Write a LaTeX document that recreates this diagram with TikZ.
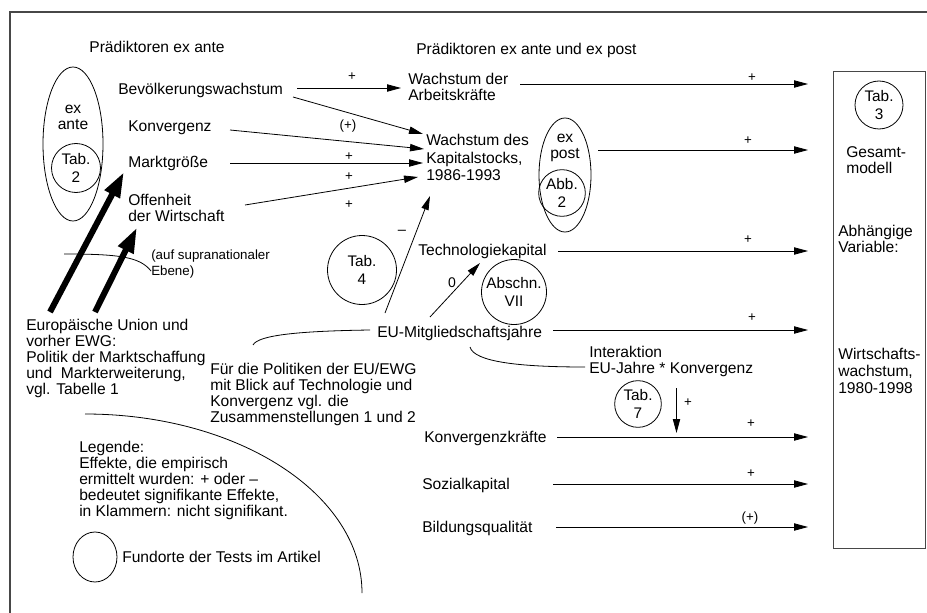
\documentclass[tikz,border=0pt]{standalone}
\usepackage{fontspec}
\setmainfont{Liberation Sans}
\usetikzlibrary{arrows.meta,calc,shapes.geometric}
\begin{document}
\begin{tikzpicture}[x=0.75pt,y=-0.75pt,
  txt/.style={font=\fontsize{11.7}{12}\selectfont, inner sep=0pt, align=left, anchor=west},
  wtxt/.style={txt, font=\fontsize{11.7}{13}\selectfont},
  ctxt/.style={font=\fontsize{11.7}{12}\selectfont, inner sep=0pt, align=center},
  small/.style={font=\fontsize{10}{11}\selectfont, inner sep=0pt},
  supfont/.style={font=\fontsize{10}{12}\selectfont, inner sep=0pt, align=left, anchor=west},
  ring/.style={draw, circle, inner sep=0pt, line width=0.6pt, align=center, font=\fontsize{11.5}{13}\selectfont},
  oval/.style={draw, ellipse, inner sep=0pt, line width=0.6pt},
  conn/.style={line width=0.6pt},
  arr/.style={line width=0.6pt, -{Triangle[length=10.5pt,width=5.5pt]}},
  bigarr/.style={line width=4.5pt, -{Triangle[length=19pt,width=12pt]}},
  frame/.style={line width=1.1pt, draw=black!72},
  boxstyle/.style={draw=black!72, line width=1.1pt, inner sep=0pt, anchor=north west}
]
\useasboundingbox (0,0) rectangle (927,613);

% frame
\coordinate (fTL) at (10,12);
\coordinate (fTR) at (927,12);
\coordinate (fBL) at (10,613);
\draw[frame] (fTR) -- (fTL) -- (fBL);

% headings
\node[ctxt] (pre1) at (157,47) {Prädiktoren ex ante};
\node[txt] (pre2) at (416,50) {Prädiktoren ex ante und ex post};

% ex ante ellipse
\node[oval, minimum width=45pt, minimum height=115.5pt] (exante) at (73,144) {};
\node[ctxt] (exantet) at (73,117) {ex\\ante};
\node[ring, minimum size=36.75pt] (tab2) at (76,168) {Tab.\\2};

% left predictors
\node[txt] (bev) at (118,90) {Bevölkerungswachstum};
\node[txt] (konv) at (128,128) {Konvergenz};
\node[txt] (markt) at (128,163) {Marktgröße};
\node[txt] (offen) at (128,207.5) {Offenheit\\der Wirtschaft};

% middle
\node[txt] (arb) at (408,86.5) {Wachstum der\\Arbeitskräfte};
\node[wtxt] (kap) at (426,157.5) {Wachstum des\\Kapitalstocks,\\1986-1993};
\node[oval, minimum width=39pt, minimum height=85.5pt] (expost) at (565,175) {};
\node[ctxt] (expostt) at (565,147.5) {ex\\post};
\node[ring, minimum size=35pt] (abb2) at (562,193) {Abb.\\2};

\node[txt] (tech) at (418,251) {Technologiekapital};
\node[ring, minimum size=48.75pt] (abs) at (514,292) {Abschn.\\VII};
\node[ring, minimum size=51.75pt] (tab4) at (362,270) {Tab.\\4};
\node[txt] (eu) at (377,333) {EU-Mitgliedschaftsjahre};
\node[txt] (inter) at (589,361.5) {Interaktion\\EU-Jahre * Konvergenz};
\node[ring, minimum size=35pt] (tab7) at (638,404) {Tab.\\7};
\node[txt] (konvk) at (424,438) {Konvergenzkräfte};
\node[txt] (sozial) at (422,485) {Sozialkapital};
\node[txt] (bild) at (422,528) {Bildungsqualität};

% right box
\node[boxstyle, minimum width=69pt, minimum height=357.75pt] (box) at (833,71) {};
\node[ring, minimum size=36pt] (tab3) at (879,105) {Tab.\\3};
\node[txt] (gesamt) at (846,160) {Gesamt-\\modell};
\node[txt] (abh) at (838,239) {Abhängige\\Variable:};
\node[wtxt] (wirt) at (838,371) {Wirtschafts-\\wachstum,\\1980-1998};

% left bottom texts
\node[txt] (eur) at (26,358.5) {Europäische Union und\\vorher EWG:\\Politik der Marktschaffung\\und~ Markterweiterung,\\vgl. Tabelle 1};
\node[txt] (fuer) at (210,394) {Für die Politiken der EU/EWG\\mit Blick auf Technologie und\\Konvergenz vgl. die\\Zusammenstellungen 1 und 2};
\node[supfont] (supra) at (151,264) {(auf supranationaler\\Ebene)};
\node[txt] (leg) at (79,480) {Legende:\\Effekte, die empirisch\\ermittelt wurden: + oder –\\bedeutet signifikante Effekte,\\in Klammern: nicht signifikant.};
\node[oval, minimum width=33pt, minimum height=37.5pt] (legov) at (95,557) {};
\node[txt] (fund) at (122,557) {Fundorte der Tests im Artikel};

% effect labels
\node[small] (l1) at (352,77) {+};
\node[small] (l2) at (348,126) {(+)};
\node[small] (l3) at (349,157) {+};
\node[small] (l4) at (349,177) {+};
\node[small] (l5) at (349,205) {+};
\node[small] (l6) at (752,78) {+};
\node[small] (l7) at (748,141) {+};
\node[small] (l8) at (748,240) {+};
\node[small] (l9) at (752,318) {+};
\node[small] (l10) at (751,424) {+};
\node[small] (l11) at (751,474) {+};
\node[small] (l12) at (750,518) {(+)};
\node[small, font=\fontsize{11}{12}\selectfont] (lm) at (402,232) {–};
\node[small, font=\fontsize{10.5}{12}\selectfont] (l0) at (452,283) {0};
\node[small] (lp) at (688,403) {+};

% arrows into Kapitalstock / Arbeitskraefte
\draw[arr] ($(bev.west)+(179,-2)$) -- ($(arb.west)+(-7,1.5)$);
\draw[arr] ($(bev.west)+(175,7)$) -- ($(kap.west)+(-3,-23.5)$);
\draw[arr] ($(konv.west)+(102,2)$) -- ($(kap.west)+(-2,-8.5)$);
\draw[arr] ($(markt.west)+(102,0)$) -- ($(kap.west)+(-3,5.5)$);
\draw[arr] ($(offen.west)+(117,-2.5)$) -- ($(kap.west)+(-8,19.5)$);

% arrows to box
\draw[arr] ($(arb.west)+(112,-2.5)$) -- ($(box.north west)+(-25,13)$);
\draw[arr] ($(kap.west)+(172,-7.5)$) -- ($(box.north west)+(-25,79)$);
\draw[arr] ($(tech.west)+(140,0)$) -- ($(box.north west)+(-25,180)$);
\draw[arr] ($(eu.west)+(176,-3)$) -- ($(box.north west)+(-25,259)$);
\draw[arr] ($(konvk.west)+(133,-1)$) -- ($(box.north west)+(-25,366)$);
\draw[arr] ($(sozial.west)+(131,-1)$) -- ($(box.north west)+(-25,413)$);
\draw[arr] ($(bild.west)+(134,-1)$) -- ($(box.north west)+(-25,456)$);

% EU arrows
\draw[arr] ($(eu.west)+(53,-16)$) -- ($(tech.west)+(62,12)$);
\draw[arr] ($(eu.west)+(8,-20)$) -- ($(kap.west)+(4,38.5)$);
\draw[conn] ($(eu.west)+(-7,-3)$) .. controls +(-70,1) and +(5,-10) .. ($(fuer.west)+(43,-49)$);
\draw[conn] ($(eu.west)+(93,14)$) .. controls +(4,15) and +(-65,0) .. ($(inter.west)+(-4,5.5)$);
\draw[arr] ($(inter.west)+(87.5,26.5)$) -- ($(konvk.west)+(252.5,-5)$);

% supranational curve
\coordinate (supstart) at (64,254);
\draw[conn] (supstart) .. controls +(56,0) and +(-11,-14) .. ($(supra.west)+(0,7)$);

% thick arrows
\draw[bigarr] ($(eur.west)+(24,-46.5)$) -- ($(markt.west)+(-4,9)$);
\draw[bigarr] ($(eur.west)+(69,-46.5)$) -- ($(offen.west)+(9,20)$);

% big curve
\coordinate (bigend) at (362,593);
\draw[conn] ($(eur.west)+(59,55.5)$) .. controls +(153,0) and +(0,-99) .. (bigend);

\end{tikzpicture}
\end{document}
